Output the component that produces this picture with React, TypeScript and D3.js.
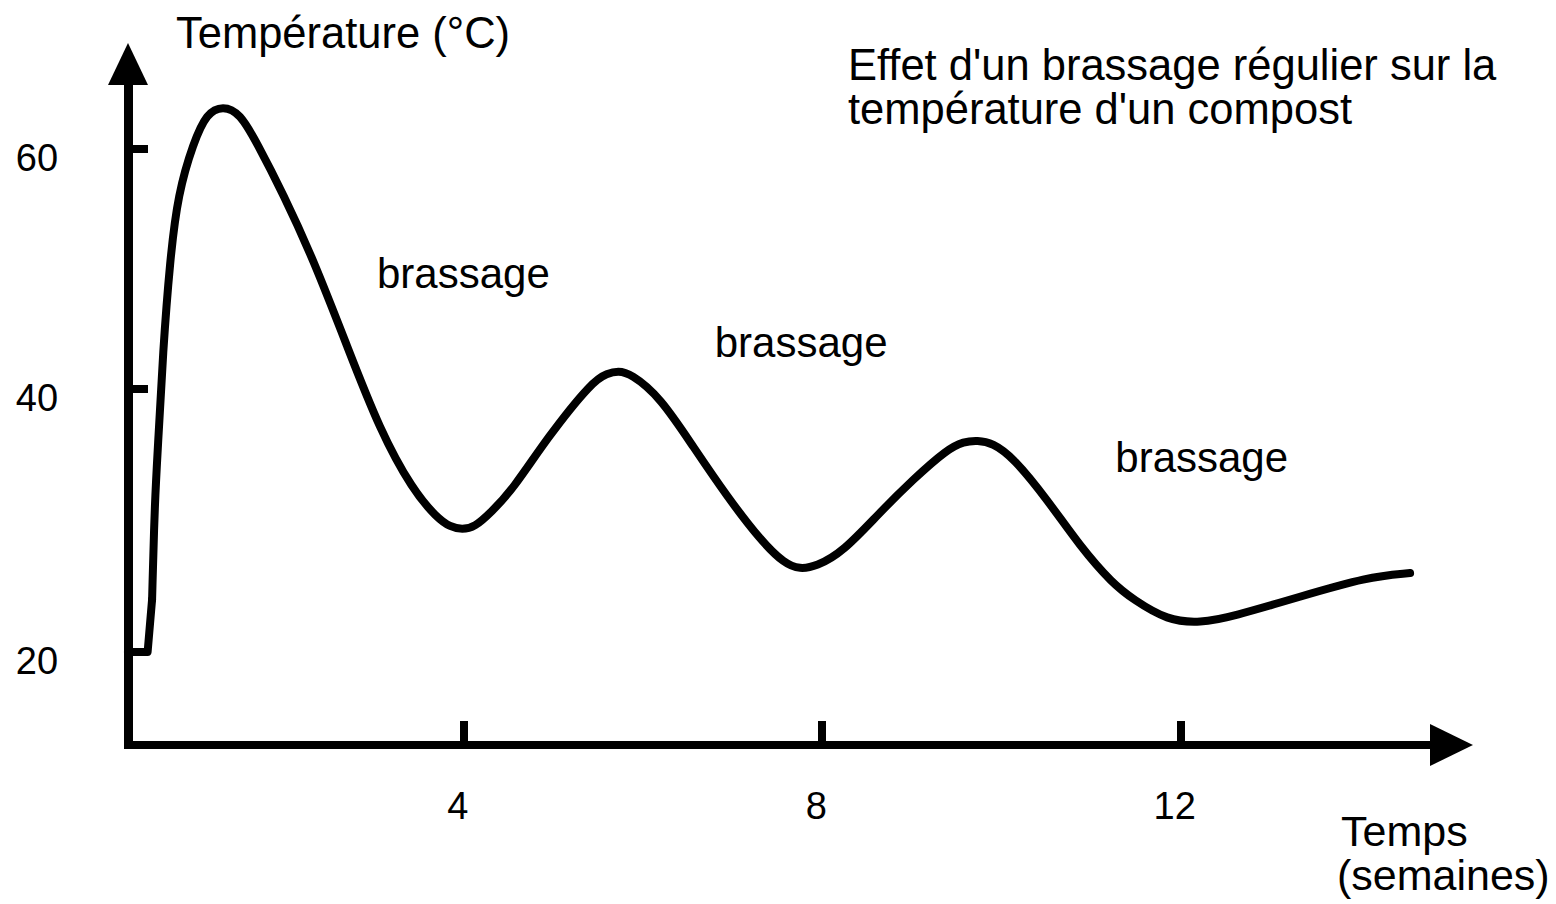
import React from 'react';
import * as d3 from 'd3';

// temperature of the compost (°C) against time (weeks)
const weeks = [0.25, 0.47, 0.52, 0.55, 0.59, 0.64, 0.72, 0.81, 0.98, 1.13, 1.31, 1.5, 1.69, 1.98, 2.32, 2.7, 3.06, 3.43, 3.7, 3.85, 3.98, 4.12, 4.3, 4.55, 4.93, 5.44, 5.6, 5.72, 5.86, 6.19, 6.56, 6.94, 7.31, 7.58, 7.75, 7.93, 8.23, 8.64, 9.01, 9.39, 9.58, 9.73, 9.9, 10.13, 10.51, 10.88, 11.24, 11.47, 11.85, 12.22, 12.58, 13.33, 14.08, 14.56];
const temps = [20, 20, 24, 31.6, 36.1, 43, 50.8, 56.3, 60.5, 63, 63.6, 63, 60.5, 56.3, 50.8, 43.5, 36.9, 32.3, 30.2, 29.5, 29.3, 29.5, 30.6, 32.4, 36.3, 40.7, 41.3, 41.5, 41.3, 39.4, 35.6, 31.8, 28.5, 26.7, 26.3, 26.5, 27.6, 30.6, 33.1, 35.4, 36, 36.1, 35.9, 34.8, 31.6, 28, 25.2, 24, 22.4, 22.2, 22.7, 24.2, 25.7, 26];

const xTicks = [4, 8, 12];
const yTicks = [20, 40, 60];

// "brassage" notes
const noteWeeks = [3.03, 6.8, 11.27];
const noteTemps = [48.4, 42.7, 33.7];
const noteText = 'brassage';

const titleLines = ["Effet d'un brassage régulier sur la", "température d'un compost"];

const W = 1556;
const H = 904;
const font = '"Liberation Sans", Arial, Helvetica, sans-serif';

export default function App() {
    // the hand drawn axis is not evenly spaced, so the y scale goes through each tick
    const x = d3.scaleLinear().domain([0, 15]).range([105.5, 1449.5]);
    const y = d3.scaleLinear().domain([20, 40, 60]).range([652, 389, 149]);

    const axisX = 128;      // position of the vertical axis
    const axisY = 745;      // position of the horizontal axis

    // the start is a sharp step, the rest a smooth curve
    const stepEnd = 2;
    const pts: [number, number][] = weeks.map((w, i) => [x(w), y(temps[i])]);
    const step = d3.line().curve(d3.curveLinear)(pts.slice(0, stepEnd + 1)) || '';
    const smooth = d3.line().curve(d3.curveBasis)(pts.slice(stepEnd)) || '';

    return (
        <svg width={W} height={H} style={{ position: 'absolute', left: 0, top: 0, background: '#fff' }}
            fontFamily={font}>
            {/* axes */}
            <line x1={axisX} x2={axisX} y1={axisY + 4} y2={82} stroke="#000" strokeWidth={9} shapeRendering="crispEdges" />
            <path d={`M${axisX},43L${axisX + 20},85L${axisX - 20},85Z`} fill="#000" />
            <line x1={axisX - 4} x2={1432} y1={axisY} y2={axisY} stroke="#000" strokeWidth={8} shapeRendering="crispEdges" />
            <path d={`M1473,${axisY}L1430,${axisY - 21}L1430,${axisY + 21}Z`} fill="#000" />

            {/* y ticks */}
            {yTicks.map(t => (
                <g key={'y' + t}>
                    <line x1={axisX} x2={axisX + 20} y1={y(t)} y2={y(t)} stroke="#000" strokeWidth={8} shapeRendering="crispEdges" />
                    <text x={37} y={y(t) + 9} dominantBaseline="central" textAnchor="middle" fontSize={38}>{t}</text>
                </g>
            ))}

            {/* x ticks */}
            {xTicks.map(t => (
                <g key={'x' + t}>
                    <line x1={x(t)} x2={x(t)} y1={axisY} y2={axisY - 24} stroke="#000" strokeWidth={8} shapeRendering="crispEdges" />
                    <text x={x(t) - 6} y={819} textAnchor="middle" fontSize={38}>{t}</text>
                </g>
            ))}

            {/* the curve */}
            <g fill="none" stroke="#000" strokeWidth={8} strokeLinejoin="round" strokeLinecap="round">
                <path d={step} />
                <path d={smooth} />
            </g>

            {/* notes */}
            {noteWeeks.map((w, i) => (
                <text key={'n' + i} x={x(w)} y={y(noteTemps[i])} fontSize={42}>{noteText}</text>
            ))}

            {/* axis titles */}
            <text x={176} y={48} fontSize={43.5}>Température (°C)</text>
            <text x={1341} y={846} fontSize={43}>Temps</text>
            <text x={1337} y={890} fontSize={43}>(semaines)</text>

            {/* title */}
            {titleLines.map((l, i) => (
                <text key={'t' + i} x={848} y={80 + i * 44} fontSize={43.5}>{l}</text>
            ))}
        </svg>
    );
}
